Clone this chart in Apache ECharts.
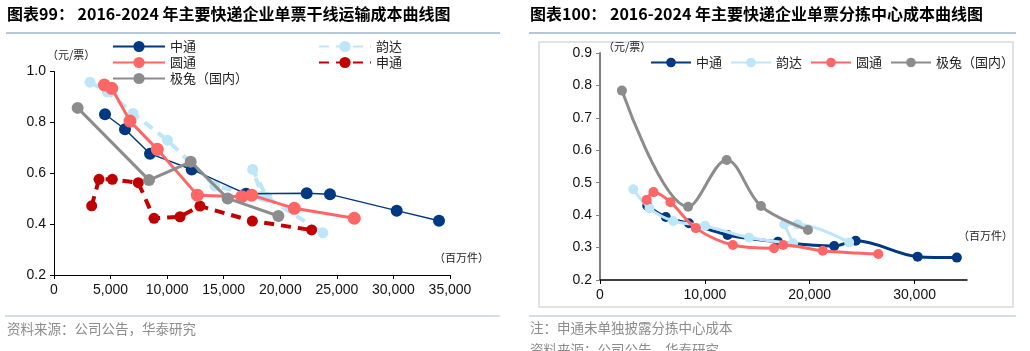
<!DOCTYPE html>
<html>
<head>
<meta charset="utf-8">
<script src="https://cdn.jsdelivr.net/npm/echarts@6/dist/echarts.min.js"></script>
<style>
  html, body { margin: 0; padding: 0; background: #fff; }
  #main { width: 1030px; height: 351px; }
</style>
</head>
<body>
<div id="main"></div>
<script>
// parcel volume (million pieces), 2016-2024
const ztoVol = [4508, 6275, 8485, 12170, 16970, 22335, 24390, 30290, 34030]
const ytoVol = [4450, 5100, 6717, 9132, 12670, 16590, 17470, 21240, 26540]
const ydVol = [3180, 4720, 6985, 10023, 14214, 18420, 17560, 18830, 23760]
const stoVol = [3330, 3980, 5155, 7450, 8840, 11140, 12900, 17530, 22770]
const jtVol = [2090, 8400, 12080, 15350, 19830]

// trunk transport cost per parcel (yuan)
const ztoLine = [0.832, 0.773, 0.677, 0.615, 0.519, 0.521, 0.517, 0.453, 0.413]
const ytoLine = [0.947, 0.934, 0.805, 0.694, 0.514, 0.508, 0.514, 0.462, 0.423]
const ydLine = [0.958, 0.92, 0.835, 0.73, 0.55, 0.51, 0.615, 0.505, 0.366]
const stoLine = [0.472, 0.576, 0.576, 0.563, 0.423, 0.429, 0.471, 0.412, 0.377]
const jtLine = [0.857, 0.573, 0.645, 0.501, 0.432]

// sorting center cost per parcel (yuan)
const ztoSort = [0.429, 0.394, 0.375, 0.339, 0.318, 0.305, 0.321, 0.272, 0.269]
const ytoSort = [0.447, 0.471, 0.44, 0.36, 0.308, 0.298, 0.308, 0.29, 0.28]
const ydSort = [0.48, 0.421, 0.382, 0.367, 0.331, 0.313, 0.372, 0.372, 0.316]
const jtSort = [0.784, 0.426, 0.57, 0.428, 0.354]

const leftTicks = [0, 5000, 10000, 15000, 20000, 25000, 30000, 35000]
const rightTicks = [0, 10000, 20000, 30000]

const C_ZTO = '#003882'
const C_YTO = '#FF6666'
const C_YD = '#BDE6F8'
const C_STO = '#C00000'
const C_JT = '#8C8C8C'

// zero-width mark keeps the right chart's legend separate from the left one
const R = '\u200b'

function pairs(xs, ys) {
  return xs.map((x, i) => [x, ys[i]])
}

const cjk = '"Noto Sans CJK SC", sans-serif'
const latin = '"Liberation Sans", Arial, sans-serif'

function fmt(v) {
  return v.toLocaleString('en-US')
}

function lineSeries(name, data, color, width, size, dashed, idx, smooth, z) {
  return {
    name: name,
    type: 'line',
    xAxisIndex: idx,
    yAxisIndex: idx,
    data: data,
    smooth: smooth ? 0.35 : false,
    symbol: 'circle',
    symbolSize: size,
    itemStyle: { color: color },
    lineStyle: { color: color, width: width, type: dashed ? [10, 7] : 'solid' },
    animation: false,
    z: z
  }
}

let chart = echarts.init(document.getElementById('main'))

let option = {
  animation: false,
  grid: [
    { left: 54, right: 580, top: 71.5, bottom: 76 },
    { left: 600, right: 63, top: 53, bottom: 71 }
  ],
  xAxis: [
    {
      gridIndex: 0,
      type: 'value',
      min: 0,
      max: 35000,
      interval: 5000,
      splitLine: { show: false },
      axisLine: { lineStyle: { color: '#000', width: 1 } },
      axisTick: { show: true, length: 4, lineStyle: { color: '#000' } },
      axisLabel: { color: '#111', fontSize: 14, fontFamily: latin, margin: 8, formatter: fmt, customValues: leftTicks }
    },
    {
      gridIndex: 1,
      type: 'value',
      min: 0,
      max: 35000,
      interval: 10000,
      splitLine: { show: false },
      axisLine: { lineStyle: { color: '#000', width: 1.5 } },
      axisTick: { show: true, length: 4, lineStyle: { color: '#000' }, customValues: rightTicks },
      axisLabel: { color: '#111', fontSize: 14, fontFamily: latin, margin: 8, formatter: fmt, customValues: rightTicks }
    }
  ],
  yAxis: [
    {
      gridIndex: 0,
      type: 'value',
      min: 0.2,
      max: 1.0,
      interval: 0.2,
      splitLine: { show: false },
      axisLine: { show: true, lineStyle: { color: '#000', width: 1 } },
      axisTick: { show: true, length: 4, lineStyle: { color: '#000' } },
      axisLabel: { color: '#111', fontSize: 14, fontFamily: latin, margin: 8, formatter: v => v.toFixed(1) }
    },
    {
      gridIndex: 1,
      type: 'value',
      min: 0.2,
      max: 0.9,
      interval: 0.1,
      splitLine: { show: false },
      axisLine: { show: true, lineStyle: { color: '#808080', width: 2 } },
      axisTick: { show: true, length: 4, lineStyle: { color: '#808080' } },
      axisLabel: { color: '#111', fontSize: 14, fontFamily: latin, margin: 8, formatter: v => v.toFixed(1) }
    }
  ],
  legend: [
    {
      orient: 'vertical',
      left: 112,
      top: 40,
      padding: 0,
      itemWidth: 52,
      itemHeight: 14,
      itemGap: 3,
      textStyle: { fontSize: 13, fontFamily: cjk, color: '#222' },
      data: ['中通', '圆通', '极兔（国内）']
    },
    {
      orient: 'vertical',
      left: 318,
      top: 40,
      padding: 0,
      itemWidth: 52,
      itemHeight: 14,
      itemGap: 3,
      textStyle: { fontSize: 13, fontFamily: cjk, color: '#222' },
      data: ['韵达', '申通']
    },
    {
      orient: 'horizontal',
      left: 650,
      top: 56,
      padding: 0,
      width: 375,
      itemWidth: 40,
      itemHeight: 12,
      itemGap: 8,
      textStyle: { fontSize: 13, fontFamily: cjk, color: '#222' },
      data: ['中通' + R, '韵达' + R, '圆通' + R, '极兔（国内）' + R]
    }
  ],
  series: [
    // left: trunk transport cost
    lineSeries('韵达', pairs(ydVol, ydLine), C_YD, 4, 11, true, 0, false, 1),
    lineSeries('申通', pairs(stoVol, stoLine), C_STO, 4, 11, true, 0, false, 2),
    lineSeries('中通', pairs(ztoVol, ztoLine), C_ZTO, 1.5, 12, false, 0, false, 3),
    lineSeries('圆通', pairs(ytoVol, ytoLine), C_YTO, 3, 13, false, 0, false, 4),
    lineSeries('极兔（国内）', pairs(jtVol, jtLine), C_JT, 3, 12, false, 0, false, 5),
    // right: sorting center cost
    lineSeries('中通' + R, pairs(ztoVol, ztoSort), C_ZTO, 3, 10, false, 1, true, 2),
    lineSeries('韵达' + R, pairs(ydVol, ydSort), C_YD, 3, 10, false, 1, true, 3),
    lineSeries('圆通' + R, pairs(ytoVol, ytoSort), C_YTO, 3, 10, false, 1, true, 4),
    lineSeries('极兔（国内）' + R, pairs(jtVol, jtSort), C_JT, 3, 10, false, 1, true, 5)
  ],
  graphic: [
    {
      type: 'text', x: 7, y: 14,
      style: { text: '图表99： 2016-2024 年主要快递企业单票干线运输成本曲线图', font: 'bold 16px ' + cjk, fill: '#000', verticalAlign: 'middle' }
    },
    {
      type: 'text', x: 530, y: 14,
      style: { text: '图表100： 2016-2024 年主要快递企业单票分拣中心成本曲线图', font: 'bold 16px ' + cjk, fill: '#000', verticalAlign: 'middle' }
    },
    { type: 'line', shape: { x1: 6, y1: 33, x2: 500, y2: 33 }, style: { stroke: '#9FB6CD', lineWidth: 1.5 } },
    { type: 'line', shape: { x1: 529, y1: 33, x2: 1016, y2: 33 }, style: { stroke: '#9FB6CD', lineWidth: 1.5 } },
    {
      type: 'rect', shape: { x: 539, y: 42, width: 474, height: 265 },
      style: { fill: 'none', stroke: '#D9D9D9', lineWidth: 1.5 }, z: -1
    },
    { type: 'line', shape: { x1: 5, y1: 316, x2: 500, y2: 316 }, style: { stroke: '#C8D4E0', lineWidth: 1.5 } },
    { type: 'line', shape: { x1: 529, y1: 316, x2: 1016, y2: 316 }, style: { stroke: '#C8D4E0', lineWidth: 1.5 } },
    {
      type: 'text', x: 7, y: 329,
      style: { text: '资料来源：公司公告，华泰研究', font: '13.5px ' + cjk, fill: '#8C8C8C', verticalAlign: 'middle' }
    },
    {
      type: 'text', x: 530, y: 328,
      style: { text: '注：申通未单独披露分拣中心成本', font: '13.5px ' + cjk, fill: '#8C8C8C', verticalAlign: 'middle' }
    },
    {
      type: 'text', x: 530, y: 350,
      style: { text: '资料来源：公司公告，华泰研究', font: '13.5px ' + cjk, fill: '#8C8C8C', verticalAlign: 'middle' }
    },
    {
      type: 'text', x: 47, y: 55,
      style: { text: '（元/票）', font: '11px ' + cjk, fill: '#222', verticalAlign: 'middle' }
    },
    {
      type: 'text', x: 434, y: 258,
      style: { text: '（百万件）', font: '11px ' + cjk, fill: '#222', verticalAlign: 'middle' }
    },
    {
      type: 'text', x: 603, y: 47,
      style: { text: '（元/票）', font: '11px ' + cjk, fill: '#222', verticalAlign: 'middle' }
    },
    {
      type: 'text', x: 958, y: 236,
      style: { text: '（百万件）', font: '11px ' + cjk, fill: '#222', verticalAlign: 'middle' }
    }
  ]
}

chart.setOption(option)
</script>
</body>
</html>
